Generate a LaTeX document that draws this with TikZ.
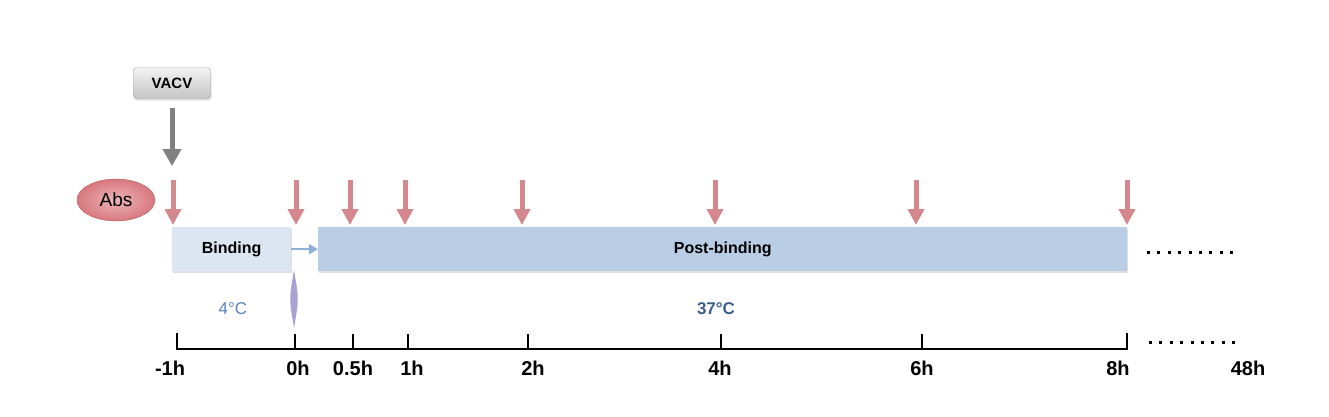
\documentclass[tikz,border=0pt]{standalone}
\usepackage{fontspec}
\setmainfont{Liberation Sans}
\usetikzlibrary{shadows,shapes.geometric,arrows.meta}

\definecolor{absred}{HTML}{D9787E}
\definecolor{arrred}{HTML}{D4878C}
\definecolor{bindblue}{HTML}{DCE6F2}
\definecolor{postblue}{HTML}{B9CDE5}
\definecolor{linkblue}{HTML}{8DAFDB}
\definecolor{tempblue}{HTML}{5B82B8}
\definecolor{tempdark}{HTML}{3E5D8C}
\definecolor{spindle}{HTML}{A9A2D2}

\begin{document}
\begin{tikzpicture}[x=1pt, y=-1pt,
    phase/.style = {draw=none, minimum height=44pt, anchor=north west, inner sep=0pt,
                    font=\fontsize{16}{18}\selectfont\bfseries,
                    drop shadow={opacity=0.25, shadow xshift=1pt, shadow yshift=-2pt}},
    treat/.style = {arrred, line width=5pt, -{Triangle[width=16pt, length=16pt]}},
    tick/.style = {line width=2.5pt},
    more/.style = {line width=3pt, dash pattern=on 3pt off 7.4pt},
    lab/.style = {font=\fontsize{20}{22}\selectfont\bfseries}]
                \useasboundingbox (0,0) rectangle (1329,416);
                % virus and antibody
                \node[draw=gray!70, rounded corners=3pt, top color=gray!10, bottom color=gray!45,
                      minimum width=77pt, minimum height=31pt, font=\fontsize{15}{17}\selectfont\bfseries,
                      drop shadow={opacity=0.25, shadow xshift=1pt, shadow yshift=-2pt}] (vacv) at (172,83) {VACV};
                \node[ellipse, draw=absred!80!black, inner color=absred!55, outer color=absred,
                      minimum width=78pt, minimum height=42pt, font=\fontsize{19}{21}\selectfont] (abs) at (116,200) {Abs};
                \coordinate (v) at (172,166);
                \draw[gray, line width=5pt, -{Triangle[width=18pt, length=17pt]}] (vacv.south) ++(0,9) -- (v);
                % phases
                \node[phase, fill=bindblue, minimum width=119pt] (bind) at (172,227) {Binding};
                \node[phase, fill=postblue, minimum width=809pt] (post) at (318,227) {Post-binding};
                \draw[linkblue, line width=2.5pt, -{Triangle[width=10pt, length=9pt]}] (bind.east) -- (post.west);
                \coordinate (d1) at (1147,252); \coordinate (d2) at (1240,252);
                \draw[more] (d1) -- (d2);
                % sampling arrows
                \coordinate (a1) at (173,180); \coordinate (b1) at (173,225);
                \coordinate (a2) at (296,180); \coordinate (b2) at (296,225);
                \coordinate (a3) at (350,180); \coordinate (b3) at (350,225);
                \coordinate (a4) at (405,180); \coordinate (b4) at (405,225);
                \coordinate (a5) at (522,180); \coordinate (b5) at (522,225);
                \coordinate (a6) at (715,180); \coordinate (b6) at (715,225);
                \coordinate (a7) at (916,180); \coordinate (b7) at (916,225);
                \coordinate (a8) at (1127,180); \coordinate (b8) at (1127,225);
                \draw[treat] (a1) -- (b1);
                \draw[treat] (a2) -- (b2);
                \draw[treat] (a3) -- (b3);
                \draw[treat] (a4) -- (b4);
                \draw[treat] (a5) -- (b5);
                \draw[treat] (a6) -- (b6);
                \draw[treat] (a7) -- (b7);
                \draw[treat] (a8) -- (b8);
                % temperature
                \fill[spindle] (294,270) .. controls (299,299) .. (294,328) .. controls (289,299) .. (294,270);
                \node[tempblue, font=\fontsize{17}{19}\selectfont] (cold) at (233,309) {4°C};
                \node[tempdark, font=\fontsize{17}{19}\selectfont\bfseries] (warm) at (716,309) {37°C};
                % time axis
                \coordinate (t1) at (177,349); \coordinate (t2) at (295,349); \coordinate (t3) at (353,349);
                \coordinate (t4) at (408,349); \coordinate (t5) at (528,349); \coordinate (t6) at (721,349);
                \coordinate (t7) at (922,349); \coordinate (t8) at (1127,349);
                \draw[tick, line cap=rect] (t1) ++(0,-15) -- (t1) -- (t8) -- ++(0,-15);
                \draw[tick] (t2) -- ++(0,-15);
                \draw[tick] (t3) -- ++(0,-15);
                \draw[tick] (t4) -- ++(0,-15);
                \draw[tick] (t5) -- ++(0,-15);
                \draw[tick] (t6) -- ++(0,-15);
                \draw[tick] (t7) -- ++(0,-15);
                \coordinate (e1) at (1149,342); \coordinate (e2) at (1242,342);
                \draw[more] (e1) -- (e2);
                \node[lab] (l1) at (170,368) {-1h};
                \node[lab] (l2) at (298,368) {0h};
                \node[lab] (l3) at (353,368) {0.5h};
                \node[lab] (l4) at (412,368) {1h};
                \node[lab] (l5) at (533,368) {2h};
                \node[lab] (l6) at (720,368) {4h};
                \node[lab] (l7) at (922,368) {6h};
                \node[lab] (l8) at (1118,368) {8h};
                \node[lab] (l9) at (1248,368) {48h};
            \end{tikzpicture}
\end{document}
